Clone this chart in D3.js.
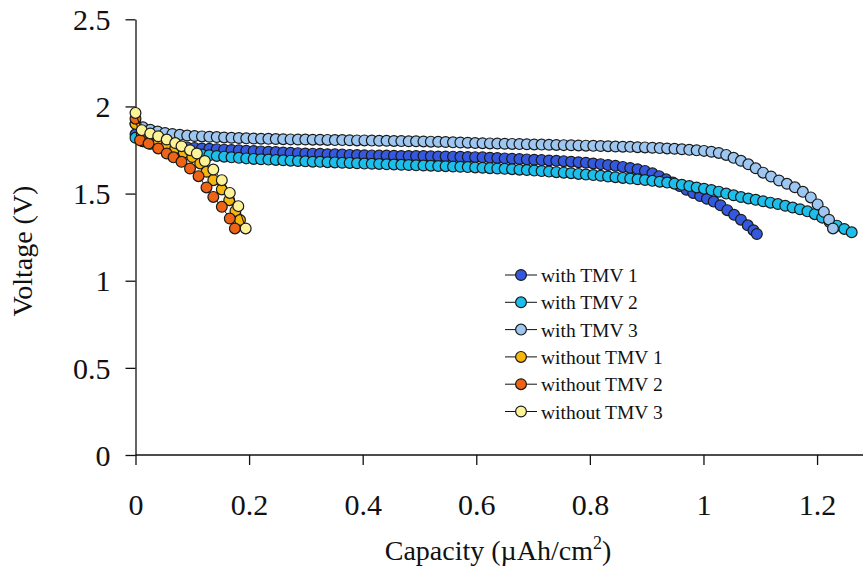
<!DOCTYPE html>
<html>
<head>
<meta charset="utf-8">
<script src="https://cdn.jsdelivr.net/npm/d3@7"></script>
<style>
  html, body { margin: 0; padding: 0; background: #fff; }
  svg { display: block; font-family: "Liberation Serif", "Times New Roman", serif; }
</style>
</head>
<body>
<svg id="chart" width="863" height="571"></svg>
<script>
// ---------------- DATA ----------------
const seriesNames = ["with TMV 1", "with TMV 2", "with TMV 3", "without TMV 1", "without TMV 2", "without TMV 3"];

const withTMV1 = [[0,1.840],[0.013,1.800],[0.026,1.787],[0.039,1.780],[0.052,1.776],[0.065,1.772],[0.078,1.768],[0.091,1.765],[0.104,1.762],[0.117,1.759],
[0.130,1.757],[0.143,1.755],[0.156,1.752],[0.169,1.750],[0.182,1.748],[0.195,1.746],[0.208,1.744],[0.221,1.742],[0.234,1.740],[0.247,1.738],
[0.260,1.736],[0.273,1.734],[0.286,1.732],[0.299,1.730],[0.312,1.729],[0.325,1.728],[0.338,1.726],[0.351,1.725],[0.364,1.724],[0.377,1.722],
[0.390,1.721],[0.403,1.720],[0.416,1.719],[0.429,1.718],[0.442,1.718],[0.455,1.717],[0.468,1.716],[0.481,1.716],[0.494,1.715],[0.507,1.715],
[0.520,1.714],[0.533,1.713],[0.546,1.713],[0.559,1.712],[0.572,1.711],[0.585,1.710],[0.598,1.709],[0.611,1.708],[0.624,1.706],[0.637,1.704],
[0.650,1.702],[0.663,1.700],[0.676,1.698],[0.689,1.696],[0.702,1.694],[0.715,1.692],[0.728,1.690],[0.741,1.688],[0.754,1.686],[0.767,1.683],
[0.780,1.680],[0.793,1.677],[0.806,1.673],[0.819,1.669],[0.832,1.664],[0.845,1.659],[0.858,1.653],[0.871,1.647],[0.884,1.640],[0.897,1.630],
[0.910,1.616],[0.922,1.600],[0.934,1.582],[0.946,1.563],[0.958,1.543],[0.970,1.522],[0.982,1.503],[0.994,1.486],[1.006,1.470],[1.018,1.454],
[1.030,1.433],[1.042,1.405],[1.054,1.378],[1.066,1.350],[1.078,1.318],[1.088,1.290],[1.094,1.268]];

const withTMV2 = [[0,1.820],[0.013,1.800],[0.026,1.786],[0.039,1.772],[0.052,1.760],[0.065,1.750],[0.078,1.742],[0.091,1.735],[0.104,1.729],[0.117,1.724],
[0.130,1.720],[0.143,1.716],[0.156,1.712],[0.169,1.708],[0.182,1.705],[0.195,1.702],[0.208,1.699],[0.221,1.697],[0.234,1.695],[0.247,1.693],
[0.260,1.691],[0.273,1.689],[0.286,1.687],[0.299,1.685],[0.312,1.683],[0.325,1.682],[0.338,1.680],[0.351,1.679],[0.364,1.677],[0.377,1.676],
[0.390,1.674],[0.403,1.672],[0.416,1.671],[0.429,1.670],[0.442,1.668],[0.455,1.667],[0.468,1.665],[0.481,1.664],[0.494,1.662],[0.507,1.661],
[0.520,1.660],[0.533,1.658],[0.546,1.657],[0.559,1.655],[0.572,1.654],[0.585,1.652],[0.598,1.650],[0.611,1.648],[0.624,1.646],[0.637,1.644],
[0.650,1.642],[0.663,1.640],[0.676,1.637],[0.689,1.635],[0.702,1.632],[0.715,1.629],[0.728,1.626],[0.741,1.623],[0.754,1.620],[0.767,1.617],
[0.780,1.613],[0.793,1.609],[0.806,1.606],[0.819,1.602],[0.832,1.598],[0.845,1.594],[0.858,1.590],[0.871,1.586],[0.884,1.582],[0.897,1.578],
[0.910,1.573],[0.923,1.568],[0.936,1.563],[0.949,1.557],[0.962,1.550],[0.975,1.543],[0.988,1.535],[1.001,1.528],[1.014,1.520],[1.027,1.511],
[1.040,1.500],[1.053,1.490],[1.066,1.480],[1.079,1.472],[1.092,1.464],[1.105,1.456],[1.118,1.448],[1.131,1.440],[1.144,1.430],[1.157,1.420],
[1.170,1.410],[1.183,1.398],[1.196,1.382],[1.209,1.362],[1.222,1.337],[1.235,1.316],[1.248,1.297],[1.261,1.278]];

const withTMV3 = [[0,1.900],[0.013,1.880],[0.026,1.866],[0.039,1.856],[0.052,1.848],[0.065,1.842],[0.078,1.837],[0.091,1.833],[0.104,1.830],[0.117,1.828],
[0.130,1.826],[0.143,1.824],[0.156,1.822],[0.169,1.820],[0.182,1.819],[0.195,1.817],[0.208,1.816],[0.221,1.815],[0.234,1.814],[0.247,1.813],
[0.260,1.812],[0.273,1.811],[0.286,1.810],[0.299,1.810],[0.312,1.809],[0.325,1.809],[0.338,1.808],[0.351,1.807],[0.364,1.807],[0.377,1.806],
[0.390,1.805],[0.403,1.805],[0.416,1.804],[0.429,1.803],[0.442,1.803],[0.455,1.802],[0.468,1.801],[0.481,1.800],[0.494,1.800],[0.507,1.799],
[0.520,1.798],[0.533,1.797],[0.546,1.796],[0.559,1.794],[0.572,1.793],[0.585,1.792],[0.598,1.790],[0.611,1.789],[0.624,1.788],[0.637,1.787],
[0.650,1.786],[0.663,1.785],[0.676,1.784],[0.689,1.783],[0.702,1.782],[0.715,1.781],[0.728,1.780],[0.741,1.779],[0.754,1.778],[0.767,1.777],
[0.780,1.776],[0.793,1.775],[0.806,1.774],[0.819,1.773],[0.832,1.772],[0.845,1.770],[0.858,1.769],[0.871,1.768],[0.884,1.766],[0.897,1.765],
[0.910,1.763],[0.923,1.761],[0.936,1.759],[0.949,1.757],[0.962,1.754],[0.975,1.751],[0.988,1.748],[1.001,1.745],[1.014,1.740],[1.027,1.733],
[1.040,1.722],[1.053,1.705],[1.066,1.688],[1.079,1.668],[1.092,1.645],[1.105,1.620],[1.119,1.598],[1.133,1.575],[1.147,1.556],[1.161,1.536],
[1.175,1.510],[1.189,1.478],[1.201,1.438],[1.212,1.395],[1.221,1.350],[1.228,1.300]];

const withoutTMV1 = [[0,1.900],[0.011,1.840],[0.026,1.820],[0.040,1.800],[0.055,1.780],[0.070,1.760],[0.085,1.735],[0.100,1.710],
[0.114,1.673],[0.125,1.625],[0.137,1.577],[0.152,1.524],[0.165,1.462],[0.176,1.400],[0.184,1.348]];

const withoutTMV2 = [[0,1.930],[0.008,1.806],[0.023,1.787],[0.040,1.759],[0.055,1.730],[0.067,1.708],[0.081,1.682],[0.096,1.644],
[0.111,1.600],[0.125,1.535],[0.137,1.481],[0.152,1.424],[0.166,1.357],[0.175,1.300]];

const withoutTMV3 = [[0,1.963],[0.011,1.864],[0.026,1.845],[0.040,1.829],[0.055,1.810],[0.070,1.790],[0.081,1.772],[0.096,1.749],
[0.108,1.730],[0.122,1.687],[0.137,1.638],[0.152,1.577],[0.166,1.504],[0.181,1.428],[0.194,1.300]];

const xTickValues = [0, 0.2, 0.4, 0.6, 0.8, 1, 1.2];
const yTickValues = [0, 0.5, 1, 1.5, 2, 2.5];

// ---------------- STYLE ----------------
const seriesColors = ["#3559DE", "#1CBFEB", "#9DC6F1", "#F6B60E", "#EE6314", "#FCF399"];
const allSeries = [withTMV1, withTMV2, withTMV3, withoutTMV1, withoutTMV2, withoutTMV3];

const svg = d3.select("#chart");
const x = d3.scaleLinear().domain([0, 1.28]).range([135.5, 862.5]);
const y = d3.scaleLinear().domain([0, 2.5]).range([455, 19.3]);

// Axes
const xAxis = d3.axisBottom(x).tickValues(xTickValues).tickFormat(d3.format("~g")).tickSize(10).tickSizeOuter(0);
const yAxis = d3.axisLeft(y).tickValues(yTickValues).tickFormat(d3.format("~g")).tickSize(10).tickSizeOuter(0);

const gx = svg.append("g").attr("transform", "translate(0,455)").call(xAxis);
gx.select(".domain").attr("d", `M${x(0)},0H863`);
gx.selectAll("text").attr("y", 60).attr("dy", null).attr("font-size", 30).attr("font-family", "Liberation Serif, serif").attr("fill", "#111");

const gy = svg.append("g").attr("transform", "translate(135.5,0)").call(yAxis);
gy.selectAll("text").attr("x", -25).attr("dy", "0.34em").attr("font-size", 30).attr("font-family", "Liberation Serif, serif").attr("fill", "#111");

svg.selectAll(".domain, .tick line").attr("stroke", "#111").attr("stroke-width", 1.3);

// Axis titles
svg.append("text")
  .attr("transform", "translate(32,251) rotate(-90)")
  .attr("text-anchor", "middle")
  .attr("font-size", 28).attr("fill", "#111")
  .text("Voltage (V)");

const xt = svg.append("text")
  .attr("x", 498).attr("y", 560)
  .attr("text-anchor", "middle")
  .attr("font-size", 28).attr("fill", "#111");
xt.append("tspan").text("Capacity (\u00B5Ah/cm");
xt.append("tspan").attr("font-size", 18).attr("dy", -11).text("2");
xt.append("tspan").attr("dy", 11).text(")");

// Series
const line = d3.line().x(d => x(d[0])).y(d => y(d[1]));
const R = 5.4;
allSeries.forEach((data, i) => {
  const g = svg.append("g");
  g.append("path").datum(data).attr("d", line).attr("fill", "none").attr("stroke", "#111").attr("stroke-width", 1);
  g.selectAll("circle").data(data).join("circle")
    .attr("cx", d => x(d[0])).attr("cy", d => y(d[1])).attr("r", R)
    .attr("fill", seriesColors[i]).attr("stroke", "#1a1a1a").attr("stroke-width", 1.2);
});

// Legend
const legend = svg.append("g");
seriesNames.forEach((name, i) => {
  const ly = 275 + i * 27.3;
  legend.append("line").attr("x1", 505).attr("x2", 537).attr("y1", ly).attr("y2", ly).attr("stroke", "#111").attr("stroke-width", 1);
  legend.append("circle").attr("cx", 521).attr("cy", ly).attr("r", R)
    .attr("fill", seriesColors[i]).attr("stroke", "#1a1a1a").attr("stroke-width", 1.2);
  legend.append("text").attr("x", 541).attr("y", ly + 7).attr("font-size", 19.5).attr("fill", "#111").text(name);
});
</script>
</body>
</html>
